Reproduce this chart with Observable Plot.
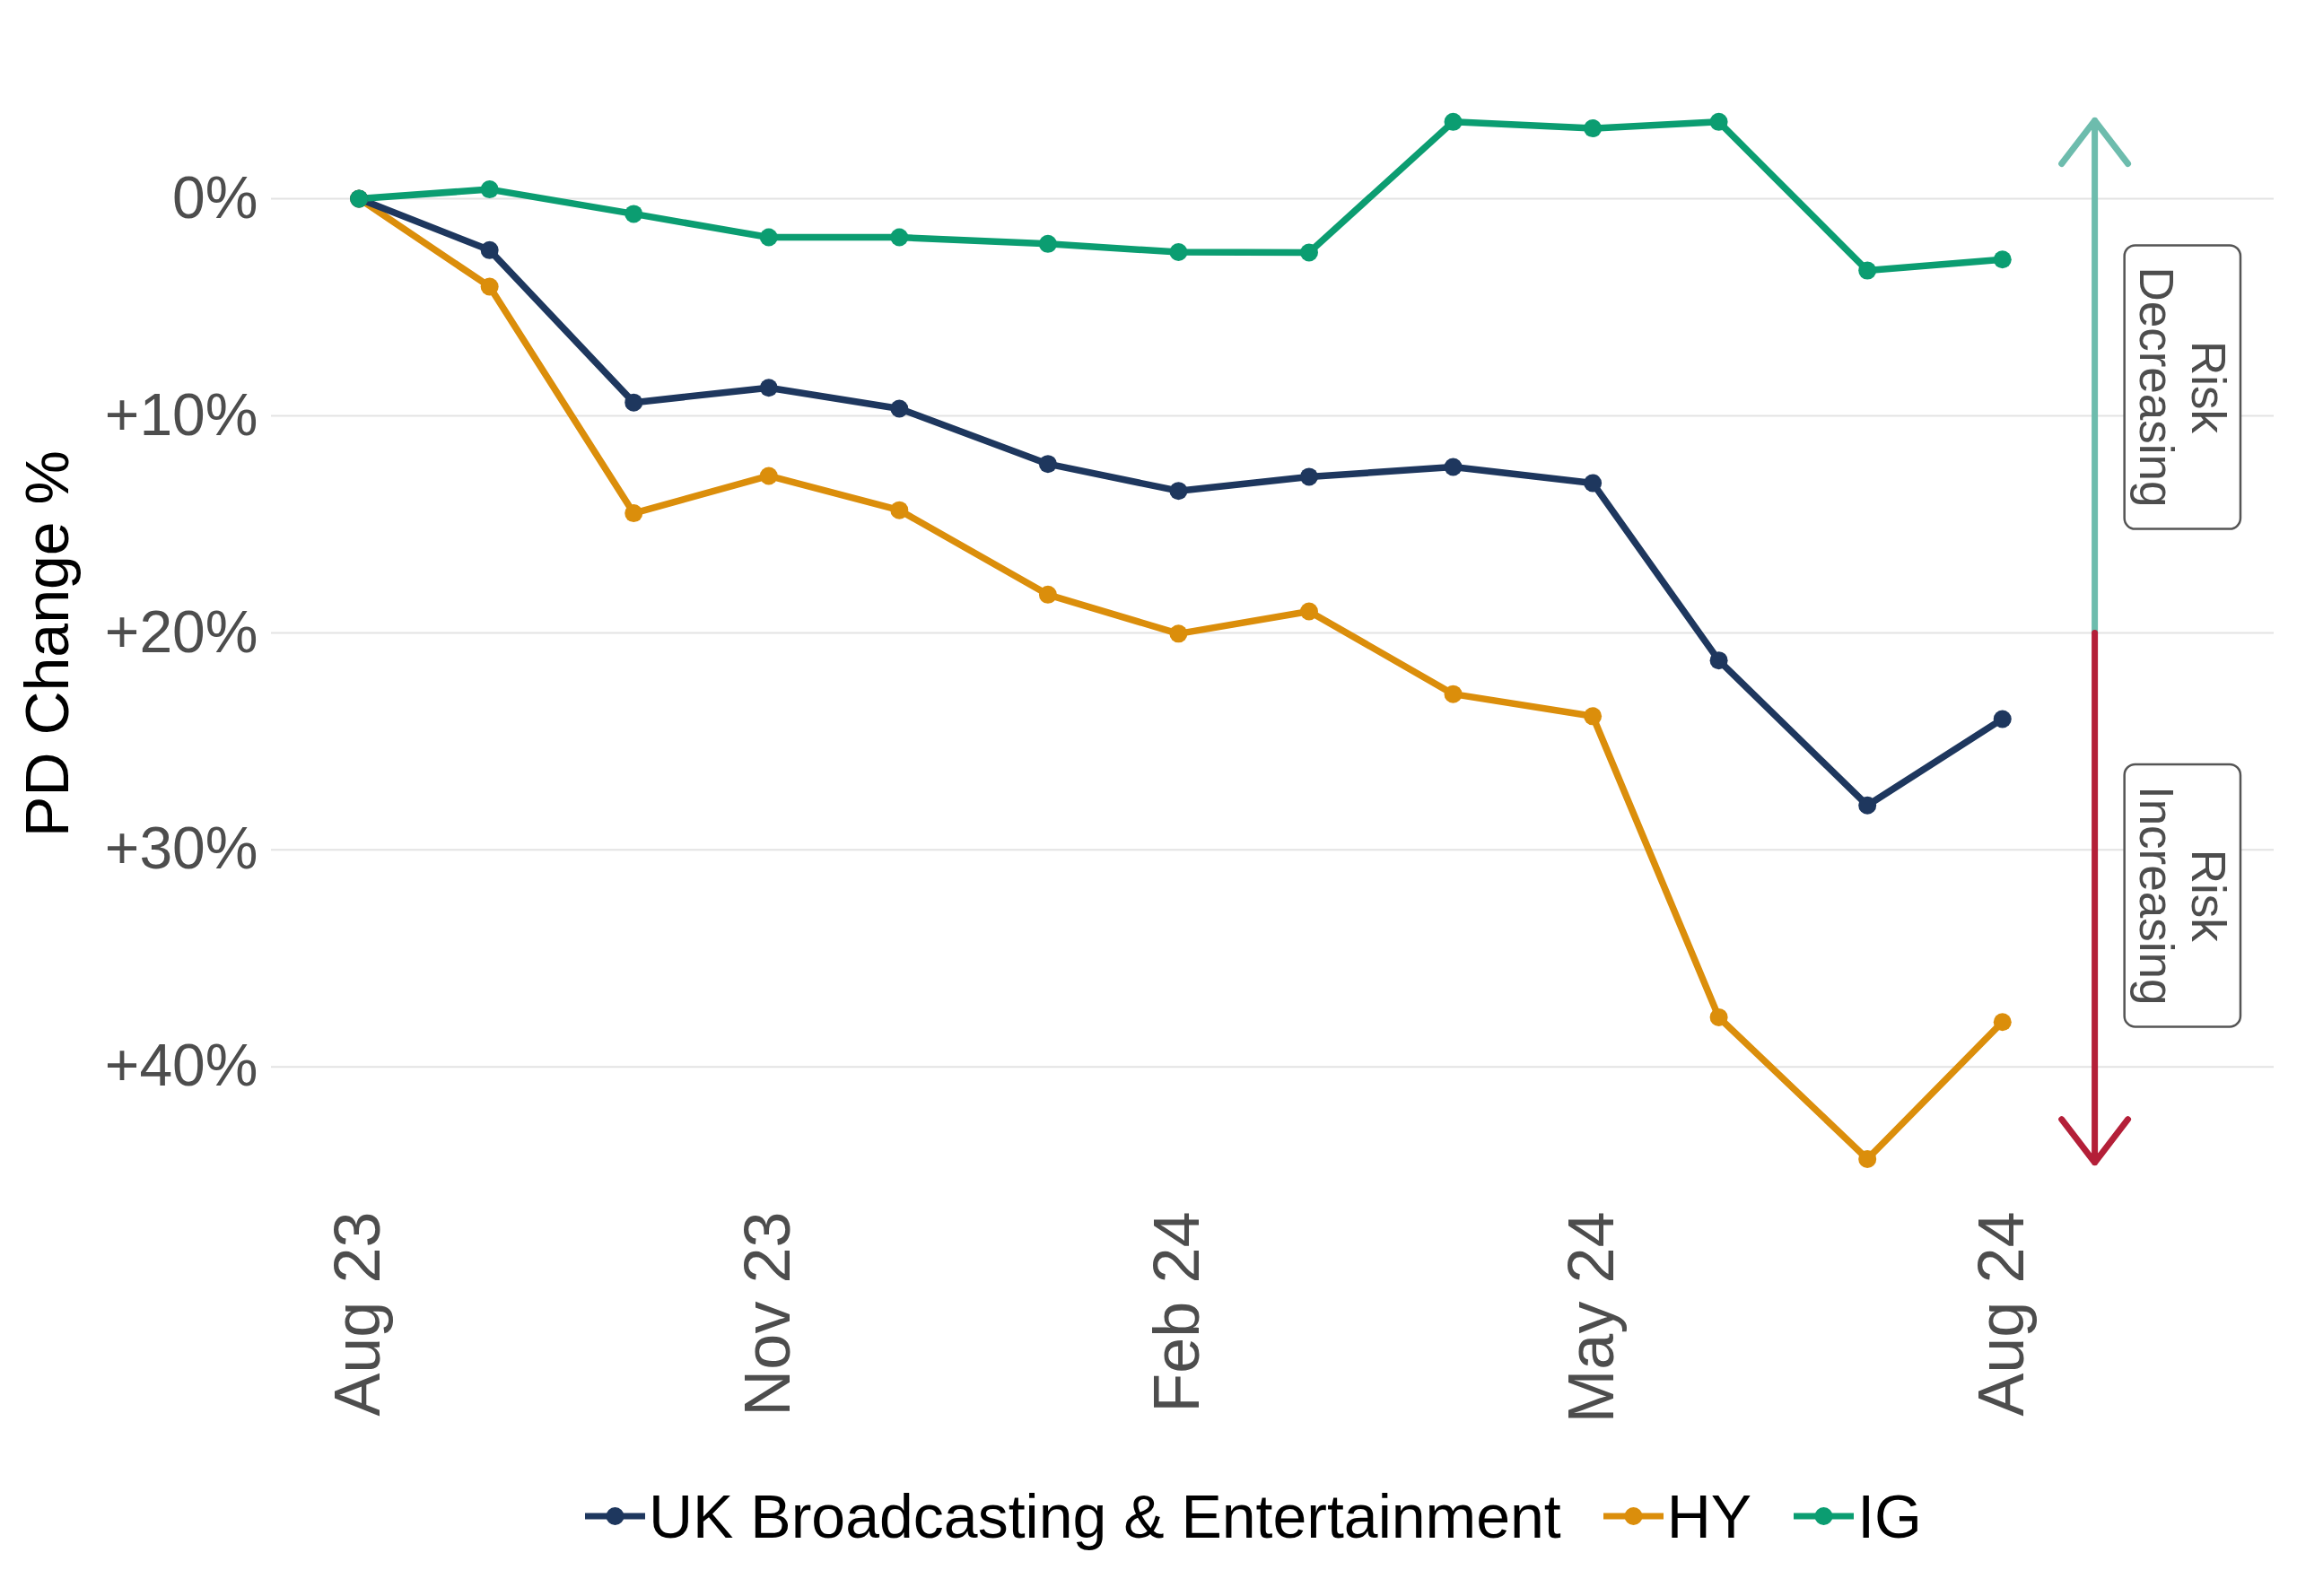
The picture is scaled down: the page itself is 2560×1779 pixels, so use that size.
<!DOCTYPE html>
<html><head><meta charset="utf-8">
<script src="https://cdn.jsdelivr.net/npm/d3@7"></script>
<script src="https://cdn.jsdelivr.net/npm/@observablehq/plot@0.6"></script>
<style>
body{margin:0;background:#fff;font-family:"Liberation Sans",Arial,sans-serif;}
#chart svg{display:block;}
#legend{display:flex;align-items:center;height:100px;padding-left:652px;font-size:68px;color:#000;}
.item{display:flex;align-items:center;margin-right:47px;}
.item svg{margin-right:4px;}
</style></head><body>
<div id="chart"></div><div id="legend"></div>
<script>
const dates = ["2023-08-31","2023-09-29","2023-10-31","2023-11-30","2023-12-29","2024-01-31","2024-02-29","2024-03-29","2024-04-30","2024-05-31","2024-06-28","2024-07-31","2024-08-30"];
const tickIndex = [0, 3, 6, 9, 12];
const tickLabels = ["Aug 23","Nov 23","Feb 24","May 24","Aug 24"];
const seriesNames = ["UK Broadcasting & Entertainment","HY","IG"];
const seriesColors = ["#1e375e","#db8e0b","#0b9d71"];
const ukValues = [0, 2.37, 9.39, 8.71, 9.67, 12.22, 13.46, 12.81, 12.36, 13.1, 21.27, 27.95, 23.97];
const hyValues = [0, 4.05, 14.49, 12.77, 14.35, 18.24, 20.04, 19.01, 22.82, 23.84, 37.71, 44.24, 37.93];
const igValues = [0, -0.43, 0.70, 1.78, 1.78, 2.08, 2.46, 2.48, -3.54, -3.24, -3.54, 3.31, 2.80];
const yTicks = [0, 10, 20, 30, 40];
const yTitle = "PD Change %";
const xDomain = ["2023-08-11T13:00Z", "2024-10-29T08:00Z"];
const arrowDate = "2024-09-19T12:00Z";
const arrowFrom = 20;
const arrowTo = [-3.6, 44.4];
const arrowColors = ["#6dbcad", "#b41f38"];
const riskLabels = ["Risk\nDecreasing", "Risk\nIncreasing"];
const riskLabelDate = "2024-10-09";
const riskLabelY = [8.68, 32.1];

const parse = s => new Date(s.length === 10 ? s + "T00:00Z" : s);
const valuesBySeries = {"UK Broadcasting & Entertainment": ukValues, "HY": hyValues, "IG": igValues};
const drawOrder = ["HY", "UK Broadcasting & Entertainment", "IG"];
const rows = drawOrder.flatMap(s => valuesBySeries[s].map((v, i) => ({date: parse(dates[i]), series: s, value: v})));
const arrows = arrowTo.map((t, k) => ({x: parse(arrowDate), from: arrowFrom, to: t}));
const labels = riskLabels.map((t, k) => ({x: parse(riskLabelDate), y: riskLabelY[k], text: t}));
const tickDates = tickIndex.map(i => parse(dates[i]));
const fmtX = d => tickLabels[tickDates.findIndex(t => +t === +d)];
const fmtY = d => d === 0 ? "0%" : (d > 0 ? "+" : "") + d + "%";

const chart = Plot.plot({
  width: 2560, height: 1640,
  marginLeft: 302, marginRight: 26, marginTop: 100, marginBottom: 306,
  style: {fontFamily: '"Liberation Sans", Arial, sans-serif', background: "#fff"},
  x: {type: "utc", domain: xDomain.map(parse)},
  y: {domain: [-5, 46], reverse: true},
  color: {domain: seriesNames, range: seriesColors},
  marks: [
    Plot.ruleY(yTicks, {stroke: "#e3e3e3", strokeWidth: 2}),
    Plot.axisY({ticks: yTicks, tickFormat: fmtY, tickSize: 0, tickPadding: 15, fontSize: 66, color: "#4d4d4d", label: null}),
    Plot.axisX({ticks: tickDates, tickFormat: fmtX, tickRotate: -90, tickSize: 0, tickPadding: 16, fontSize: 72, color: "#4d4d4d", label: null}),
    Plot.text([yTitle], {frameAnchor: "left", textAnchor: "middle", dx: -248, rotate: -90, fontSize: 68, fill: "#000"}),
    Plot.line(rows, {x: "date", y: "value", stroke: "series", z: "series", strokeWidth: 7.5}),
    Plot.dot(rows, {x: "date", y: "value", fill: "series", r: 10}),
    Plot.arrow([arrows[0]], {x1: "x", y1: "from", x2: "x", y2: "to", stroke: arrowColors[0], strokeWidth: 7, headAngle: 75, headLength: 13}),
    Plot.arrow([arrows[1]], {x1: "x", y1: "from", x2: "x", y2: "to", stroke: arrowColors[1], strokeWidth: 7, headAngle: 75, headLength: 13}),
    Plot.text(labels, {x: "x", y: "y", text: "text", rotate: 90, fontSize: 53, lineHeight: 1.1, fill: "#4d4d4d", ariaDescription: "risk-labels"})
  ]
});
document.getElementById("chart").appendChild(chart);

// rounded boxes behind the risk labels
d3.select(chart).selectAll('[aria-description="risk-labels"] text').each(function() {
  const b = this.getBBox();
  const r = document.createElementNS("http://www.w3.org/2000/svg", "rect");
  r.setAttribute("x", b.x - 24);
  r.setAttribute("y", b.y - 6);
  r.setAttribute("width", b.width + 48);
  r.setAttribute("height", b.height + 12);
  r.setAttribute("rx", 12);
  r.setAttribute("fill", "#fff");
  r.setAttribute("stroke", "#555");
  r.setAttribute("stroke-width", 2.5);
  const t = this.getAttribute("transform");
  if (t) r.setAttribute("transform", t);
  this.parentNode.insertBefore(r, this);
});

// legend
const legend = d3.select("#legend");
seriesNames.forEach((s, k) => {
  const it = legend.append("div").attr("class", "item");
  const sw = it.append("svg").attr("width", 67).attr("height", 24);
  sw.append("line").attr("x1", 0).attr("x2", 67).attr("y1", 12).attr("y2", 12).attr("stroke", seriesColors[k]).attr("stroke-width", 7);
  sw.append("circle").attr("cx", 33.5).attr("cy", 12).attr("r", 10).attr("fill", seriesColors[k]);
  it.append("span").text(s);
});
</script>
</body></html>
